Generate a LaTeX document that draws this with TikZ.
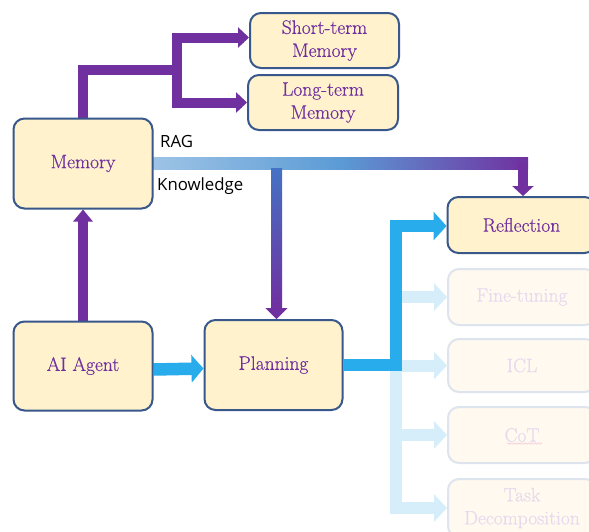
\documentclass[tikz,border=0pt]{standalone}
\usepackage{fontspec}
\newfontfamily\labelfont{Open Sans}
\newfontfamily\boxfont{Latin Modern Roman}[FakeBold=0.5]
\usetikzlibrary{arrows.meta,calc,backgrounds,decorations.pathmorphing}
\definecolor{boxfill}{RGB}{255,242,204}
\definecolor{boxline}{RGB}{56,87,138}
\definecolor{txtpurple}{RGB}{112,48,160}
\definecolor{arrpurple}{RGB}{112,48,160}
\definecolor{arrblue}{RGB}{40,172,236}
\definecolor{fadeblue}{RGB}{214,238,250}
\definecolor{fadefill}{RGB}{255,249,239}
\definecolor{fadeline}{RGB}{222,228,238}
\definecolor{fadetxt}{RGB}{228,220,238}
\definecolor{squig}{RGB}{242,205,215}
\definecolor{ragA}{RGB}{157,195,230}
\definecolor{ragB}{RGB}{91,155,213}
\definecolor{ragC}{RGB}{112,48,160}
\definecolor{knowA}{RGB}{68,114,196}
\pgfdeclarehorizontalshading{ragbar}{100bp}{color(0bp)=(ragA); color(25bp)=(ragA); color(50bp)=(ragB); color(75bp)=(ragC); color(100bp)=(ragC)}
\tikzset{
  box/.style={draw=boxline, line width=2pt, fill=boxfill, rounded corners=11pt,
    text=txtpurple, font=\boxfont\fontsize{19.5}{23}\selectfont, align=center, inner sep=0pt},
  fadebox/.style={box, draw=fadeline, fill=fadefill, text=fadetxt},
  purp/.style={draw=arrpurple, line width=10pt, line join=miter, line cap=rect},
  purphead/.style={-{Triangle[length=11pt,width=20pt]}},
  bluearr/.style={draw=arrblue, line width=12.5pt, line join=miter, -{Triangle[length=13pt,width=28pt]}},
  fadearr/.style={draw=fadeblue, line width=12pt, line join=miter, -{Triangle[length=13pt,width=27pt]}},
  lbl/.style={font=\labelfont\fontsize{16.8}{19}\selectfont, text=black, inner sep=0pt, anchor=base west}
}
\begin{document}
\begin{tikzpicture}[x=1pt,y=-1pt]
\useasboundingbox (0,0) rectangle (589,531);
\clip (0,0) rectangle (589,531);

% boxes
\path
  (83,163.5)   node[box, minimum width=139pt, minimum height=90pt] (mem) {Memory}
  (83,366)     node[box, minimum width=139pt, minimum height=89pt] (agent) {AI Agent}
  (273.5,365)  node[box, minimum width=138pt, minimum height=90pt] (plan) {Planning}
  (324.5,40.5) node[box, minimum width=149pt, minimum height=55pt] (stm) {Short-term\\Memory}
  (323,102.5)  node[box, minimum width=150pt, minimum height=55pt] (ltm) {Long-term\\Memory}
  (521.5,225)  node[box, minimum width=148pt, minimum height=56pt] (refl) {Reflection}
  (522,297)    node[fadebox, minimum width=148pt, minimum height=56pt] (ft) {Fine-tuning}
  (522,365.5)  node[fadebox, minimum width=148pt, minimum height=53pt] (icl) {ICL}
  (522,435)    node[fadebox, minimum width=148pt, minimum height=56pt] (cot) {CoT}
  (522,508)    node[fadebox, minimum width=148pt, minimum height=58pt] (task) {Task\\Decomposition};

% labels
\node[lbl] (rag) at (160,147) {RAG};
\node[lbl] (know) at (157,190) {Knowledge};

% spell-check squiggle under CoT
\draw[squig, line width=0.6pt, decorate, decoration={snake, amplitude=0.8pt, segment length=3pt}]
  ([xshift=-15pt,yshift=-8.5pt]cot.center) -- ([xshift=20pt,yshift=-8.5pt]cot.center);

\begin{scope}[on background layer]
\fill[white] (0,0) rectangle (589,531);

% Memory -> short/long term
\coordinate (mj) at (177,70);
\draw[purp] (mem.north) |- (mj);
\draw[purp,purphead] (mj |- ltm.west) |- ([yshift=3pt]stm.west);
\draw[purp,purphead] (mj |- ltm.west) -- (ltm.west);

% AI Agent -> Memory
\draw[purp,line cap=butt,-{Triangle[length=12pt,width=19pt]}] (agent.north) -- (mem.south);

% RAG / Knowledge gradient bar
\coordinate (rk) at ([xshift=1.5pt]refl.north);
\shade[shading=ragbar] ($(mem.east)+(0,-6.5)$) rectangle ($(rk)+(5,-27)$);
\draw[draw=ragC, line width=10pt, -{Triangle[length=10pt,width=21pt]}] ($(rk)+(0,-34)$) -- (rk);
% branch down to Planning
\coordinate (pk) at ([xshift=3pt]plan.north);
\shade[top color=knowA, bottom color=ragC] ($(pk)+(-5.5,-151)$) rectangle ($(pk)+(5.5,-10.5)$);
\fill[ragC] ($(pk)+(-11,-11)$) -- ($(pk)+(11,-11)$) -- (pk) -- cycle;

% AI Agent -> Planning
\draw[bluearr,-{Triangle[length=12pt,width=27pt]}] ([yshift=-3.5pt]agent.east) -- ([yshift=-3.5pt]plan.west);

% faded branches
\coordinate (fx) at (396,300);
\draw[fadearr] (fx) |- (task.west);
\draw[fadearr] (fx |- ft.west) -- (ft.west);
\draw[fadearr] (fx |- icl.west) -- (icl.west);
\draw[fadearr] (fx |- cot.west) -- (cot.west);

% Planning -> Reflection
\coordinate (bx) at (396,226);
\draw[bluearr] (plan.east) -| (bx) -- (bx -| refl.west);
\end{scope}
\end{tikzpicture}
\end{document}
